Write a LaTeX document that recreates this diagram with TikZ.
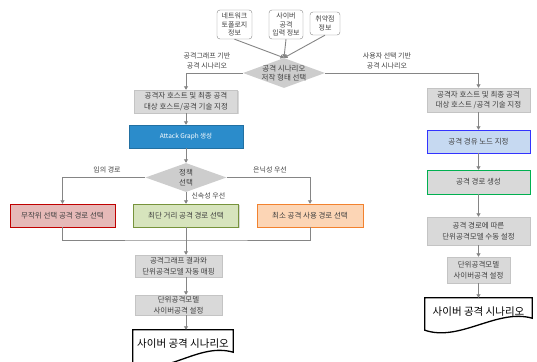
\documentclass[tikz,border=0pt]{standalone}
\usepackage{fontspec}
\setmainfont{Noto Sans CJK KR}
\usetikzlibrary{shapes.geometric,arrows.meta,shadows}

\definecolor{lineGray}{HTML}{858585}
\definecolor{boxGray}{HTML}{D9D9D9}
\definecolor{boxEdge}{HTML}{C4C4C4}
\definecolor{diaGray}{HTML}{CDCDCD}
\definecolor{txtGray}{HTML}{404040}
\definecolor{agBlue}{HTML}{2B8CCB}
\definecolor{redFill}{HTML}{E6B9B8}
\definecolor{redEdge}{HTML}{C00000}
\definecolor{greenFill}{HTML}{D7E4BD}
\definecolor{greenEdge}{HTML}{77933C}
\definecolor{orangeFill}{HTML}{FCD5B5}
\definecolor{orangeEdge}{HTML}{F2822F}
\definecolor{viaFill}{HTML}{C6D9F1}
\definecolor{viaEdge}{HTML}{3333FF}
\definecolor{pathEdge}{HTML}{00B050}

\tikzset{
  flow/.style={draw=lineGray, line width=0.9pt, -{Triangle[width=4pt,length=3.5pt]}},
  plain/.style={draw=lineGray, line width=0.9pt},
  infobox/.style={draw=lineGray, rounded corners=3pt, fill=white, align=center,
    font=\fontsize{7}{8.8}\selectfont, text=txtGray, inner sep=1pt},
  stepbox/.style={draw=boxEdge, fill=boxGray, align=center, text=txtGray,
    font=\fontsize{7.5}{10.5}\selectfont, minimum height=23pt, inner sep=1pt,
    drop shadow={shadow xshift=1pt, shadow yshift=-1pt, fill=black!30}},
  choice/.style={diamond, fill=diaGray, minimum width=82pt, minimum height=30pt, inner sep=0pt},
  choicetext/.style={align=center, text=txtGray, font=\fontsize{7.5}{9.5}\selectfont},
  branchlbl/.style={align=center, text=txtGray, font=\fontsize{7}{10}\selectfont},
  docbox/.style={minimum width=#1, minimum height=28pt, font=\fontsize{10.5}{12}\selectfont},
  docedge/.style={draw=black, line width=1.3pt, fill=white}
}

\begin{document}
\begin{tikzpicture}[x=1pt, y=-1pt]
  \useasboundingbox (0,0) rectangle (537,361);

  % input information
  \node[infobox, minimum width=35pt, minimum height=29pt] (netBox) at (234.5,24.5) {네트워크\\토폴로지\\정보};
  \node[infobox, minimum width=34pt, minimum height=29pt] (inBox) at (286,24.5) {사이버\\공격\\입력 정보};
  \node[infobox, minimum width=30pt, minimum height=23pt] (vulBox) at (325,23.5) {취약점\\정보};

  % authoring type
  \node[choice] (dSel) at (284,73) {};
  \node[choicetext] (dSelText) at (dSel) {공격 시나리오\\저작 형태 선택};
  \draw[flow] (netBox.south) -- (dSel.north);
  \draw[flow] (inBox.south) -- (dSel.north);
  \draw[flow] (vulBox.south) -- (dSel.north);

  % graph based branch
  \node[stepbox, minimum width=103pt] (hostL) at (186,101.5) {공격자 호스트 및 최종 공격\\대상 호스트/공격 기술 지정};
  \node[draw=agBlue!80!black, fill=agBlue, text=white, font=\fontsize{6.5}{8}\selectfont,
    minimum width=114pt, minimum height=23pt] (agraph) at (186,136.5) {Attack Graph 생성};
  \node[choice, minimum width=81pt, minimum height=29pt] (policy) at (186,177.5) {};
  \node[choicetext] (policyText) at (policy) {정책\\선택};
  \draw[flow] (dSel.west) -| (hostL.north);
  \node[branchlbl] (lblGraph) at (207,61) {공격그래프 기반\\공격 시나리오};
  \draw[flow] (hostL.south) -- (agraph.north);
  \draw[flow] (agraph.south) -- (policy.north);

  % path policies
  \node[stepbox, draw=redEdge, fill=redFill, minimum width=105pt] (randBox) at (62.5,215.5) {무작위 선택 공격 경로 선택};
  \node[stepbox, draw=greenEdge, fill=greenFill, minimum width=105pt] (shortBox) at (186,215.5) {최단 거리 공격 경로 선택};
  \node[stepbox, draw=orangeEdge, fill=orangeFill, minimum width=106pt] (stealthBox) at (310,215.5) {최소 공격 사용 경로 선택};
  \draw[flow] (policy.west) -| (randBox.north);
  \draw[flow] (policy.south) -- (shortBox.north);
  \draw[flow] (policy.east) -| (stealthBox.north);
  \node[branchlbl] (lblRand) at (107,170) {임의 경로};
  \node[branchlbl, anchor=west] (lblFast) at (188,196) {신속성 우선};
  \node[branchlbl] (lblHide) at (270,170) {은닉성 우선};

  % merge and mapping
  \coordinate (merge) at (186,240);
  \node[stepbox, minimum width=87pt, minimum height=22pt] (mapBox) at (178.5,266) {공격그래프 결과와\\단위공격모델 자동 매핑};
  \node[stepbox, minimum width=87pt, minimum height=20pt] (setL) at (178.5,305) {단위공격모델\\사이버공격 설정};
  \node[docbox=100pt] (docL) at (183,344) {};
  \draw[plain] (randBox.south) |- (merge) -| (stealthBox.south);
  \draw[plain] (shortBox.south) -- (merge);
  \draw[flow] (merge) -- (merge |- mapBox.north);
  \draw[flow] (merge |- mapBox.south) -- (merge |- setL.north);
  \draw[docedge] (docL.north west) -- (docL.north east) -- ([yshift=6pt]docL.south east)
    .. controls +(-35,-10) and +(35,12) .. ([yshift=-6pt]docL.south west) -- cycle;
  \node[docbox=100pt] (docLText) at (docL) {사이버 공격 시나리오};
  \draw[flow] (merge |- setL.south) -- (merge |- docL.north);

  % user selection branch
  \node[stepbox, minimum width=103pt, minimum height=24pt] (hostR) at (478.5,100) {공격자 호스트 및 최종 공격\\대상 호스트 /공격 기술 지정};
  \node[stepbox, draw=viaEdge, fill=viaFill, minimum width=103pt] (viaBox) at (478.5,141.5) {공격 경유 노드 지정};
  \node[stepbox, draw=pathEdge, minimum width=103pt, minimum height=24pt] (pathBox) at (478.5,182) {공격 경로 생성};
  \node[stepbox, minimum width=103pt, minimum height=28pt] (manualBox) at (478.5,231) {공격 경로에 따른\\단위공격모델 수동 설정};
  \node[stepbox, minimum width=63pt, minimum height=26pt] (setR) at (478.5,270) {단위공격모델\\사이버공격 설정};
  \node[docbox=107pt] (docR) at (478.5,312) {};
  \draw[flow] (dSel.east) -| (hostR.north);
  \node[branchlbl] (lblUser) at (387,61) {사용자 선택 기반\\공격 시나리오};
  \draw[flow] (hostR.south) -- (viaBox.north);
  \draw[flow] (viaBox.south) -- (pathBox.north);
  \draw[flow] (pathBox.south) -- (manualBox.north);
  \draw[flow] (manualBox.south) -- (setR.north);
  \draw[docedge] (docR.north west) -- (docR.north east) -- ([yshift=8pt]docR.south east)
    .. controls +(-35,-10) and +(35,12) .. ([yshift=-4pt]docR.south west) -- cycle;
  \node[docbox=107pt] (docRText) at (docR) {사이버 공격 시나리오};
  \draw[flow] (setR.south) -- (docR.north);
\end{tikzpicture}
\end{document}
